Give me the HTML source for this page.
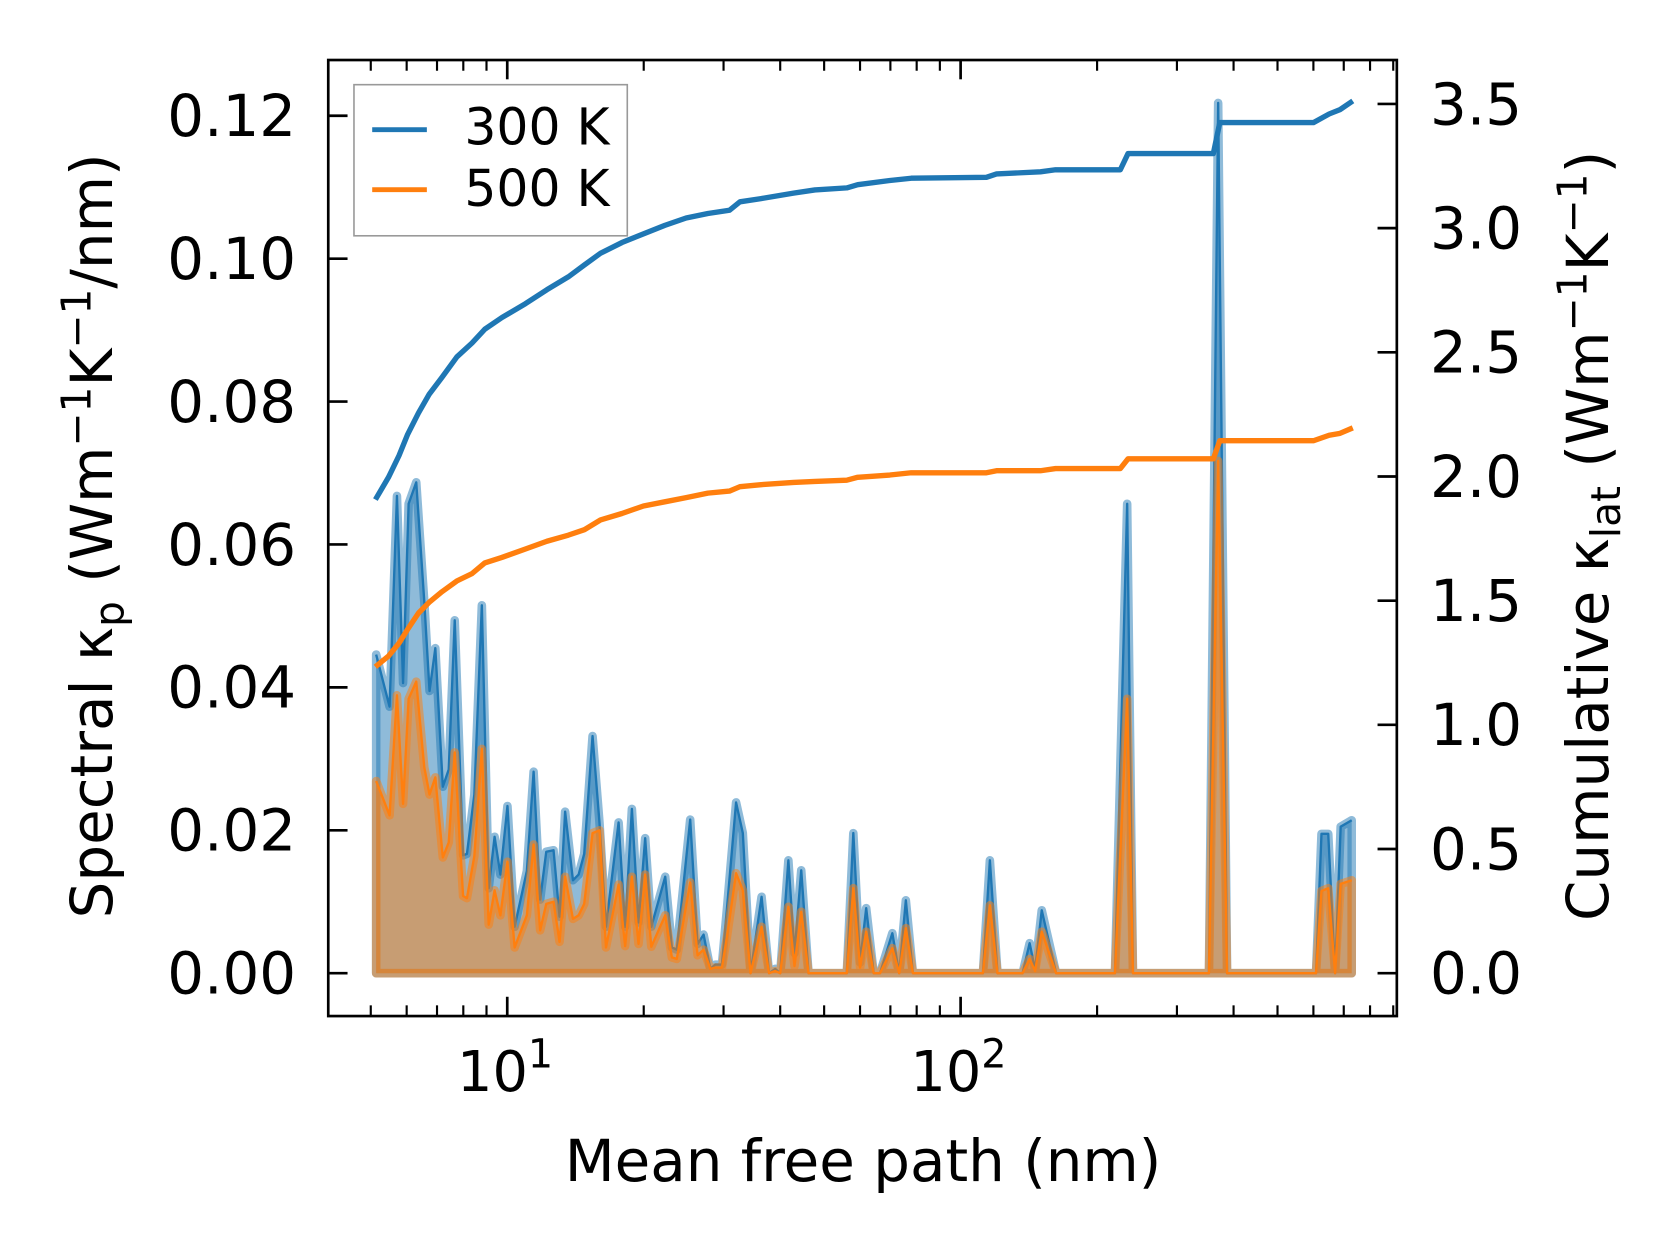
<!DOCTYPE html>
<html><head><meta charset="utf-8"><style>
html,body{margin:0;padding:0;background:#fff;}
svg{display:block;font-family:"DejaVu Sans","Liberation Sans",sans-serif;}
</style></head><body>
<svg id="chart" width="1679" height="1254" viewBox="0 0 1566 1170" xmlns="http://www.w3.org/2000/svg">
<defs><clipPath id="clip"><rect x="306" y="56" width="997" height="892"/></clipPath></defs>
<g id="plot" clip-path="url(#clip)"></g>
<g id="axes"></g>
<g>
<rect x="330" y="79" width="255" height="141" fill="#fff" fill-opacity="0.8" stroke="#999" stroke-width="1.5"/>
<line x1="347" y1="121" x2="398" y2="121" stroke="#1f77b4" stroke-width="4.5"/>
<text x="433" y="135" font-size="47">300 K</text>
<line x1="347" y1="177" x2="398" y2="177" stroke="#ff7f0e" stroke-width="4.5"/>
<text x="433" y="192" font-size="47">500 K</text>
</g>
<text x="805" y="1102" font-size="54" text-anchor="middle">Mean free path (nm)</text>
<text transform="translate(104,500) rotate(-90)" font-size="54" text-anchor="middle">Spectral κ<tspan font-size="38" dy="11">p</tspan><tspan dy="-11"> (Wm</tspan><tspan font-size="38" dy="-20">−1</tspan><tspan dy="20">K</tspan><tspan font-size="38" dy="-20">−1</tspan><tspan dy="20">/nm)</tspan></text>
<text transform="translate(1500,500) rotate(-90)" font-size="54" text-anchor="middle">Cumulative κ<tspan font-size="38" dy="11">lat</tspan><tspan dy="-11"> (Wm</tspan><tspan font-size="38" dy="-20">−1</tspan><tspan dy="20">K</tspan><tspan font-size="38" dy="-20">−1</tspan><tspan dy="20">)</tspan></text>
</svg>
<script>
const specMfp=[5.14,5.50,5.71,5.89,6.06,6.30,6.56,6.74,6.94,7.21,7.43,7.66,7.99,8.15,8.46,8.79,9.10,9.38,9.66,10.01,10.38,11.05,11.43,11.82,12.19,12.65,13.04,13.42,13.96,14.37,14.78,15.42,15.98,16.51,17.60,18.20,18.83,19.48,20.15,20.78,22.31,23.08,23.66,25.33,26.30,27.11,28.05,28.77,29.75,30.50,31.97,33.09,34.4,36.4,37.8,39.0,40.0,41.7,43.0,44.5,46.2,56.1,58.0,60.0,61.9,64.3,66.4,70.7,73.2,75.7,78.5,112,116,120.6,137,142,146,151,162.4,219,233,240,353,370,387,608,625,647,670,689,729];
const spec300=[0.0446,0.0373,0.0668,0.0406,0.0657,0.0687,0.052,0.0395,0.0455,0.0261,0.0285,0.0494,0.0165,0.0167,0.0250,0.0515,0.0119,0.0191,0.0138,0.0234,0.0065,0.0143,0.0282,0.0103,0.0170,0.0172,0.0079,0.0226,0.0130,0.0138,0.0167,0.0332,0.021,0.0065,0.0211,0.0065,0.0230,0.0071,0.0189,0.0065,0.0135,0.0036,0.0033,0.0215,0.0041,0.0054,0.0006,0.0012,0.0012,0.0089,0.0239,0.0196,0,0.0107,0,0.0006,0,0.0158,0.0028,0.0144,0,0,0.0196,0.0015,0.0091,0,0,0.0056,0,0.0102,0,0,0.0158,0,0,0.0042,0.0005,0.0088,0,0,0.0657,0,0,0.1218,0,0,0.0195,0.0195,0,0.0205,0.0214];
const spec500=[0.0269,0.0221,0.0389,0.0237,0.0384,0.0408,0.0288,0.0250,0.0274,0.0162,0.0183,0.0309,0.0108,0.0105,0.0164,0.0314,0.0068,0.0116,0.0081,0.0156,0.0036,0.0081,0.0180,0.0060,0.0097,0.0100,0.0044,0.0135,0.0076,0.0081,0.0097,0.0196,0.0200,0.0036,0.0124,0.0038,0.0135,0.0041,0.0138,0.0037,0.0081,0.0022,0.0020,0.0127,0.0025,0.0033,0.0006,0.0008,0.0008,0.0050,0.0140,0.0116,0,0.0065,0,0.0003,0,0.0093,0.0010,0.0086,0,0,0.0119,0.0008,0.0058,0,0,0.0035,0,0.0063,0,0,0.0095,0,0,0.0020,0.0003,0.0058,0,0,0.0384,0,0,0.0717,0,0,0.0115,0.0119,0,0.0125,0.0130];
const cumMfp=[5.12,5.47,5.77,6.03,6.37,6.72,7.18,7.74,8.36,8.92,9.73,10.97,12.23,13.64,14.8,16.06,17.9,19.97,22.26,24.8,27.7,30.9,32.6,36.3,42.8,47.7,56.1,59.3,69.8,77.8,114,120,150,162,225,234,361,373,600,650,687,733];
const cum300=[1.907,1.997,2.084,2.170,2.256,2.330,2.399,2.481,2.537,2.593,2.640,2.696,2.752,2.804,2.852,2.899,2.942,2.977,3.011,3.041,3.059,3.072,3.106,3.119,3.141,3.154,3.162,3.175,3.192,3.201,3.205,3.218,3.227,3.235,3.235,3.300,3.300,3.425,3.425,3.460,3.477,3.512];
const cum500=[1.234,1.277,1.329,1.385,1.450,1.493,1.536,1.579,1.609,1.652,1.674,1.708,1.739,1.764,1.786,1.825,1.851,1.881,1.898,1.915,1.933,1.941,1.959,1.967,1.976,1.980,1.985,1.997,2.006,2.015,2.015,2.023,2.023,2.032,2.032,2.071,2.071,2.144,2.144,2.166,2.174,2.196];
const leftTicks=[0,0.02,0.04,0.06,0.08,0.10,0.12];
const leftTickLabels=["0.00","0.02","0.04","0.06","0.08","0.10","0.12"];
const rightTicks=[0,0.5,1.0,1.5,2.0,2.5,3.0,3.5];
const rightTickLabels=["0.0","0.5","1.0","1.5","2.0","2.5","3.0","3.5"];
const xMajor=[10,100];
const xMajorExp=["1","2"];
const xMinor=[5,6,7,8,9,20,30,40,50,60,70,80,90,200,300,400,500,600,700,800,900];

const NS="http://www.w3.org/2000/svg";
const X=m=>473+423*(Math.log10(m)-1);
const YL=v=>908-v*(800/0.12);
const YR=v=>908-v*(811/3.5);
const plot=document.getElementById('plot'), axes=document.getElementById('axes');
function mk(tag,attrs,parent){const e=document.createElementNS(NS,tag);for(const k in attrs)e.setAttribute(k,attrs[k]);parent.appendChild(e);return e;}
function linePts(xs,ys,fy){return xs.map((m,i)=>X(m).toFixed(1)+','+fy(ys[i]).toFixed(1)).join(' ');}
function area(vals,color,nm){
  const pts=linePts(specMfp,vals,YL);
  const d='M'+X(specMfp[0]).toFixed(1)+','+YL(0)+' L'+pts.split(' ').join(' L')+' L'+X(specMfp[specMfp.length-1]).toFixed(1)+','+YL(0)+' Z';
  const a=mk('path',{d:d,fill:color,'fill-opacity':0.5,stroke:color,'stroke-opacity':0.5,'stroke-width':8,'stroke-linejoin':'round'},plot);
  
  
  const l=mk('polyline',{points:pts,fill:'none',stroke:color,'stroke-width':2.2,'stroke-linejoin':'round'},plot);
  
  
}
area(spec300,'#1f77b4','spectral-300k');
area(spec500,'#ff7f0e','spectral-500k');
const c1=mk('polyline',{points:linePts(cumMfp,cum300,YR),fill:'none',stroke:'#1f77b4','stroke-width':5,'stroke-linejoin':'round'},plot);


const c2=mk('polyline',{points:linePts(cumMfp,cum500,YR),fill:'none',stroke:'#ff7f0e','stroke-width':5,'stroke-linejoin':'round'},plot);



const fr=mk('rect',{x:306,y:56,width:997,height:892,fill:'none',stroke:'#000','stroke-width':2.5},axes);


leftTicks.forEach((v,i)=>{
  const y=YL(v);
  const t=mk('line',{x1:306,y1:y,x2:324,y2:y,stroke:'#000','stroke-width':2.5},axes);
  
  
  const tx=mk('text',{x:276,y:y+19,'font-size':54,'text-anchor':'end'},axes);
  tx.textContent=leftTickLabels[i];
  
  
});
rightTicks.forEach((v,i)=>{
  const y=YR(v);
  const t=mk('line',{x1:1285,y1:y,x2:1303,y2:y,stroke:'#000','stroke-width':2.5},axes);
  
  
  const tx=mk('text',{x:1334,y:y+19,'font-size':54},axes);
  tx.textContent=rightTickLabels[i];
  
  
});
xMajor.forEach((m,i)=>{
  const x=X(m);
  [[948,930],[56,74]].forEach(p=>{
    const t=mk('line',{x1:x,y1:p[0],x2:x,y2:p[1],stroke:'#000','stroke-width':2.5},axes);
    
    
  });
  const tx=mk('text',{x:x-2,y:1018,'font-size':52,'text-anchor':'middle'},axes);
  tx.textContent='10';
  const sp=mk('tspan',{'font-size':37,dy:-22},tx);
  sp.textContent=xMajorExp[i];
  
  
});
xMinor.forEach(m=>{
  const x=X(m);
  [[948,938],[56,66]].forEach(p=>{
    const t=mk('line',{x1:x,y1:p[0],x2:x,y2:p[1],stroke:'#000','stroke-width':2},axes);
    
    
  });
});
</script>
</body></html>
